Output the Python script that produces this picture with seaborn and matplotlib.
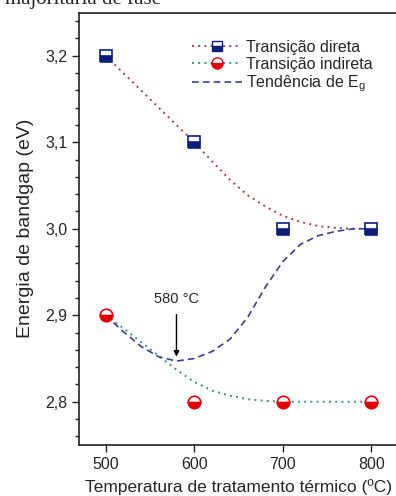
import matplotlib
matplotlib.use("Agg")
import matplotlib.pyplot as plt
import matplotlib.ticker as mticker
import pandas as pd
import seaborn as sns

# measured points
temps = [500, 600, 700, 800]
direct_gap = [3.2, 3.1, 3.0, 3.0]
indirect_gap = [2.9, 2.8, 2.8, 2.8]

# smoothed guide curves
curve_t = [500, 520, 540, 560, 580, 600, 620, 640, 660, 680, 700, 720, 740, 760, 780, 800]
direct_curve = [3.200, 3.180, 3.160, 3.140, 3.120, 3.100, 3.078, 3.057, 3.039, 3.026,
                3.015, 3.008, 3.003, 3.001, 3.000, 3.000]
indirect_curve = [2.900, 2.885, 2.869, 2.853, 2.837, 2.823, 2.813, 2.807, 2.803, 2.801,
                  2.800, 2.800, 2.800, 2.800, 2.800, 2.800]
trend_curve = [2.900, 2.881, 2.864, 2.852, 2.847, 2.850, 2.858, 2.872, 2.897, 2.932,
               2.962, 2.982, 2.992, 2.997, 3.000, 3.000]

NAVY = "#0b1f7a"
RED = "#e0000a"
C_DIRECT = "#a0453f"
C_INDIRECT = "#3a8f86"
C_TREND = "#3b3f92"


def main():
    sns.set_theme(style="ticks")
    plt.rcParams["font.family"] = ["Liberation Sans", "DejaVu Sans"]

    pts = pd.DataFrame({"T": temps, "direct": direct_gap, "indirect": indirect_gap})
    curves = pd.DataFrame({"T": curve_t, "direct": direct_curve,
                           "indirect": indirect_curve, "trend": trend_curve})

    fig = plt.figure(figsize=(3.96, 4.96), dpi=100)
    ax = fig.add_axes([79 / 396, 1 - 445 / 496, 319 / 396, (445 - 12.5) / 496])

    dot = (0, (1, 2.2))
    dash = (0, (4, 2.5))
    sns.lineplot(data=curves, x="T", y="direct", ax=ax, color=C_DIRECT, linestyle=dot, lw=1.4)
    sns.lineplot(data=curves, x="T", y="indirect", ax=ax, color=C_INDIRECT, linestyle=dot, lw=1.4)
    sns.lineplot(data=curves, x="T", y="trend", ax=ax, color=C_TREND, linestyle=dash, lw=1.2)

    ax.plot(pts["T"], pts["direct"], ls="none", marker="s", ms=8, fillstyle="bottom",
            markerfacecolor=NAVY, markerfacecoloralt="white", markeredgecolor=NAVY,
            markeredgewidth=1.2, zorder=5)
    ax.plot(pts["T"], pts["indirect"], ls="none", marker="o", ms=9, fillstyle="bottom",
            markerfacecolor=RED, markerfacecoloralt="white", markeredgecolor=RED,
            markeredgewidth=1.2, zorder=5)

    # legend proxies
    h1, = ax.plot([], [], color=C_DIRECT, ls=dot, lw=1.4, marker="s", ms=7,
                  fillstyle="bottom", markerfacecolor=NAVY, markerfacecoloralt="white",
                  markeredgecolor=NAVY)
    h2, = ax.plot([], [], color=C_INDIRECT, ls=dot, lw=1.4, marker="o", ms=8,
                  fillstyle="bottom", markerfacecolor=RED, markerfacecoloralt="white",
                  markeredgecolor=RED)
    h3, = ax.plot([], [], color=C_TREND, ls=dash, lw=1.2)
    ax.legend([h1, h2, h3], ["Transição direta", "Transição indireta", r"Tendência de E$_\mathregular{g}$"],
              loc="upper left", bbox_to_anchor=(0.335, 0.952), frameon=False, fontsize=11.5,
              handlelength=3.1, handletextpad=0.25, labelspacing=0.12, borderaxespad=0)

    ax.annotate("", xy=(580, 2.849), xytext=(580, 2.904),
                arrowprops=dict(arrowstyle="-|>", color="black", lw=1, mutation_scale=8))
    ax.text(580, 2.911, "580 °C", ha="center", va="bottom", fontsize=10.5)

    ax.set_xlim(470, 830)
    ax.set_ylim(2.75, 3.25)
    ax.set_xticks([500, 600, 700, 800])
    ax.set_yticks([2.8, 2.9, 3.0, 3.1, 3.2])
    ax.yaxis.set_minor_locator(mticker.MultipleLocator(0.02))
    ax.yaxis.set_major_formatter(mticker.FuncFormatter(lambda v, p: f"{v:.1f}".replace(".", ",")))
    ax.tick_params(axis="both", which="major", direction="out", length=5, width=1,
                   labelsize=11.5, color="#222222")
    ax.tick_params(axis="y", which="minor", direction="out", length=3, width=1, color="#222222")
    ax.set_xlabel("Temperatura de tratamento térmico (ºC)", fontsize=12.5, labelpad=5)
    ax.set_ylabel("Energia de bandgap (eV)", fontsize=14, labelpad=8)
    for s in ["left", "bottom", "top"]:
        ax.spines[s].set_color("#222222")
        ax.spines[s].set_linewidth(1.2)
    ax.spines["right"].set_visible(False)

    fig.text(0.012, 1 - 4 / 496, "majoritária de fase", fontsize=15,
             family=["Liberation Serif", "DejaVu Serif"], va="baseline", ha="left")

    fig.savefig("out.png", dpi=100)
    plt.close(fig)


if __name__ == "__main__":
    main()
